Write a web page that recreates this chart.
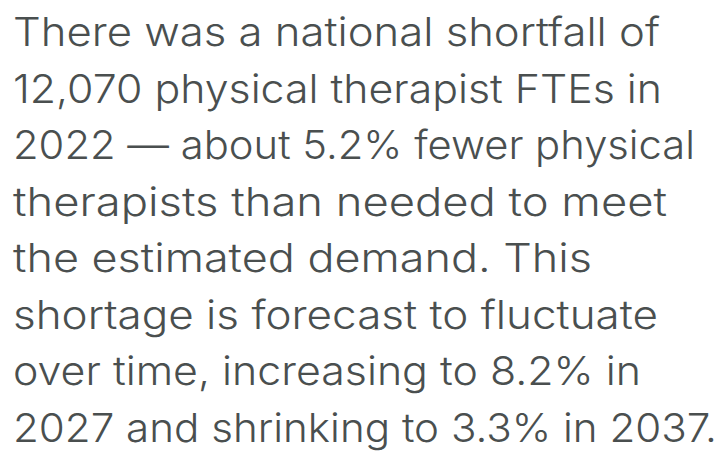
<!DOCTYPE html>
<html>
<head>
<meta charset="utf-8">
<script src="https://cdn.jsdelivr.net/npm/d3@7"></script>
<style>
  html, body { margin: 0; padding: 0; background: #ffffff; }
  svg { display: block; }
  .line {
    font-family: "Inter", "Open Sans", "Noto Sans", sans-serif;
    font-weight: 330;
    font-variant-ligatures: none;
    fill: #4a4f4f;
  }
</style>
</head>
<body>
<div id="chart"></div>
<script>
// text content, one entry per line as it wraps in the reference
const lines = [
  "There was a national shortfall of",
  "12,070 physical therapist FTEs in",
  "2022 \u2014 about 5.2% fewer physical",
  "therapists than needed to meet",
  "the estimated demand. This",
  "shortage is forecast to fluctuate",
  "over time, increasing to 8.2% in",
  "2027 and shrinking to 3.3% in 2037.",
];

// layout: where each wrapped line ends on the right (the original face is
// wider than anything installed, so each line is stretched to its length)
const lineRight = [660, 662, 695, 667, 592, 658, 641, 717];

const width = 722;
const height = 451;
const left = 13;
const fontSize = 40;

const svg = d3
  .select("#chart")
  .append("svg")
  .attr("width", width)
  .attr("height", height);

// one baseline per line, evenly spaced
const y = d3
  .scaleLinear()
  .domain([0, lines.length - 1])
  .range([46, 442]);

svg
  .append("g")
  .selectAll(".line")
  .data(lines)
  .join("text")
  .attr("class", "line")
  .attr("x", left)
  .attr("y", (d, i) => y(i))
  .attr("font-size", fontSize)
  .attr("textLength", (d, i) => lineRight[i] - left)
  .attr("lengthAdjust", "spacingAndGlyphs")
  .text((d) => d);
</script>
</body>
</html>
